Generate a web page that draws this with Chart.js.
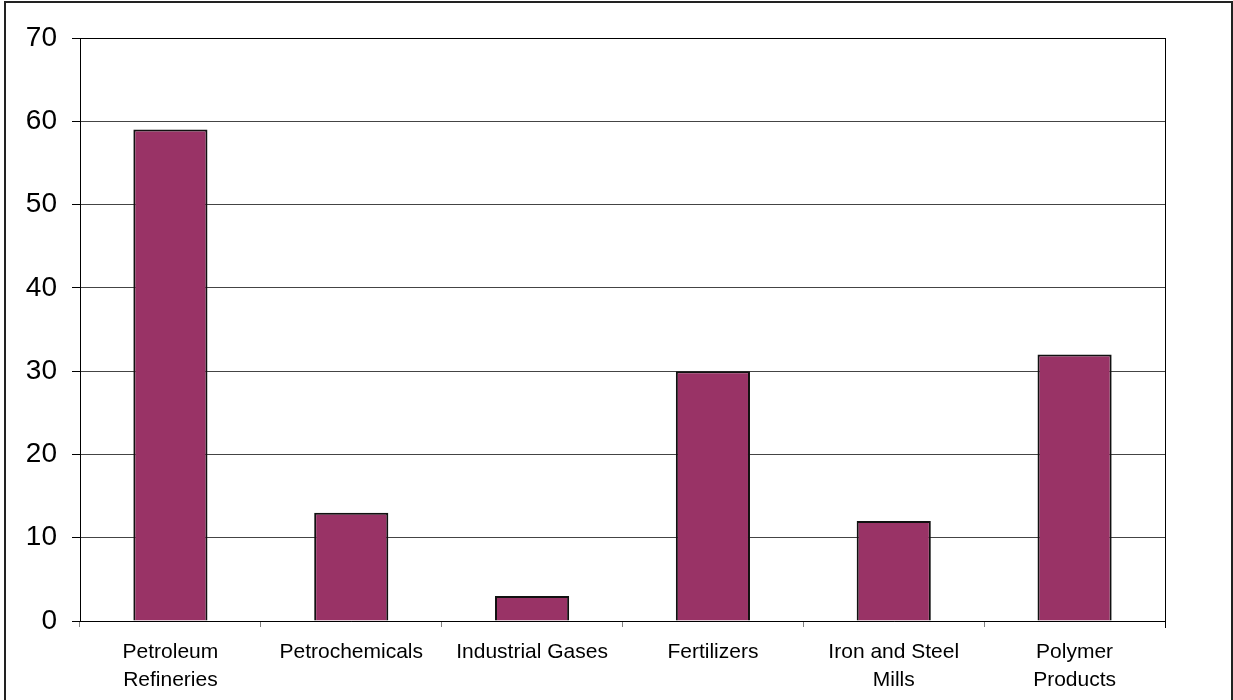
<!DOCTYPE html>
<html>
<head>
<meta charset="utf-8">
<script src="https://cdn.jsdelivr.net/npm/chart.js@4/dist/chart.umd.min.js"></script>
<style>
  body { margin: 0; background: #fff; }
  #wrap { position: relative; width: 1233px; height: 700px; overflow: hidden; }
  #frame { position: absolute; left: 4px; top: 1px; width: 1225px; height: 720px; border: 2px solid #222; }
  #chart { position: absolute; left: 0; top: 0; }
</style>
</head>
<body>
<div id="wrap">
  <div id="frame"></div>
  <canvas id="chart" width="1233" height="700"></canvas>
</div>
<script>
const categories = [
  ['Petroleum', 'Refineries'],
  'Petrochemicals',
  'Industrial Gases',
  'Fertilizers',
  ['Iron and Steel', 'Mills'],
  ['Polymer', 'Products']
];
const values = [59, 13, 3, 30, 12, 32];
const yTicks = [0, 10, 20, 30, 40, 50, 60, 70];

// right edge of the plot frame
const plotFrame = {
  id: 'plotFrame',
  afterDraw(chart) {
    const { ctx, chartArea } = chart;
    ctx.save();
    ctx.strokeStyle = '#000';
    ctx.lineWidth = 1;
    ctx.beginPath();
    ctx.moveTo(Math.round(chartArea.right) + 0.5, chartArea.top);
    ctx.lineTo(Math.round(chartArea.right) + 0.5, chartArea.bottom + 7);
    ctx.stroke();
    ctx.restore();
  }
};

new Chart(document.getElementById('chart').getContext('2d'), {
  type: 'bar',
  data: {
    labels: categories,
    datasets: [{
      data: values,
      backgroundColor: '#993366',
      borderColor: '#111',
      borderWidth: 2,
      categoryPercentage: 1,
      barPercentage: 0.41
    }]
  },
  options: {
    responsive: false,
    animation: false,
    devicePixelRatio: 1,
    layout: { padding: { top: 38, right: 68, left: 0, bottom: 0 } },
    plugins: { legend: { display: false }, tooltip: { enabled: false } },
    scales: {
      x: {
        afterFit: s => { s.height = 79; },
        grid: { drawOnChartArea: false, tickLength: 6, tickColor: '#808080' },
        border: { color: '#000', width: 1 },
        ticks: {
          color: '#000',
          padding: 11,
          maxRotation: 0,
          autoSkip: false,
          font: { family: '"Liberation Sans", Arial, sans-serif', size: 21, lineHeight: 1.34 }
        }
      },
      y: {
        min: yTicks[0],
        max: yTicks[yTicks.length - 1],
        afterFit: s => { s.width = 80; },
        afterBuildTicks: s => { s.ticks = yTicks.map(v => ({ value: v })); },
        grid: {
          color: c => (c.tick && c.tick.value === 70 ? '#000' : '#444'),
          tickLength: 8,
          tickColor: '#000'
        },
        border: { color: '#000', width: 1 },
        ticks: {
          color: '#000',
          padding: 15,
          font: { family: '"Liberation Sans", Arial, sans-serif', size: 28 }
        }
      }
    }
  },
  plugins: [plotFrame]
});
</script>
</body>
</html>
